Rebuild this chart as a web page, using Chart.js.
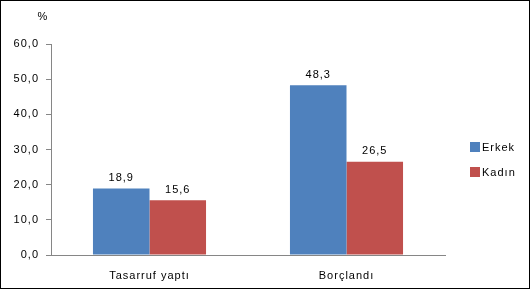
<!DOCTYPE html>
<html lang="tr">
<head>
  <meta charset="UTF-8" />
  <title>Tasarruf / Borçlanma</title>
  <script src="https://cdn.jsdelivr.net/npm/chart.js"></script>
  <style>
    * { box-sizing: border-box; }
    body { margin: 0; padding: 0; background: #fff; }
    .frame {
      width: 530px;
      height: 289px;
      border: 1px solid #000;
      background: #fff;
    }
    canvas { display: block; }
  </style>
</head>
<body>
  <div class="frame">
    <canvas id="chart" width="528" height="287"></canvas>
  </div>

  <script>
    const categories = ['Tasarruf yaptı', 'Borçlandı'];
    const erkek = [18.9, 48.3];
    const kadin = [15.6, 26.5];
    const seriesNames = ['Erkek', 'Kadın'];
    const seriesColors = ['#4F81BD', '#C0504D'];
    const yMin = 0, yMax = 60, yStep = 10;
    const unitLabel = '%';

    const fontFamily = "'Liberation Sans', Arial, sans-serif";
    const fmt = v => v.toFixed(1).replace('.', ',');

    // wide letter spacing like the original export
    const spacing = {
      id: 'spacing',
      beforeInit(chart) { chart.ctx.letterSpacing = '1px'; },
      beforeDraw(chart) { chart.ctx.letterSpacing = '1px'; }
    };

    // value labels above each bar + legend + unit label
    const extras = {
      id: 'extras',
      afterDatasetsDraw(chart) {
        const c = chart.ctx;
        c.save();
        c.letterSpacing = '1px';
        c.font = '11px ' + fontFamily;
        c.fillStyle = '#000';
        c.textAlign = 'center';
        c.textBaseline = 'bottom';
        chart.data.datasets.forEach((ds, i) => {
          chart.getDatasetMeta(i).data.forEach((bar, j) => {
            c.fillText(fmt(ds.data[j]), bar.x, bar.y - 5);
          });
        });

        // unit label above the y axis
        c.textAlign = 'center';
        c.textBaseline = 'middle';
        c.fillText(unitLabel, chart.chartArea.left - 8, 16);

        // legend
        const lx = chart.chartArea.right + 25;
        let ly = 146;
        c.textAlign = 'left';
        chart.data.datasets.forEach(ds => {
          c.fillStyle = ds.backgroundColor;
          c.fillRect(lx, ly - 5, 10, 10);
          c.fillStyle = '#000';
          c.fillText(ds.label, lx + 12, ly + 1);
          ly += 25;
        });
        c.restore();
      }
    };

    new Chart(document.getElementById('chart'), {
      type: 'bar',
      data: {
        labels: categories,
        datasets: [
          { label: seriesNames[0], data: erkek, backgroundColor: seriesColors[0] },
          { label: seriesNames[1], data: kadin, backgroundColor: seriesColors[1] }
        ]
      },
      options: {
        responsive: false,
        animation: false,
        events: [],
        layout: { padding: { top: 43, right: 84, left: 0, bottom: 0 } },
        datasets: {
          bar: { categoryPercentage: 0.574, barPercentage: 1.0 }
        },
        plugins: {
          legend: { display: false },
          tooltip: { enabled: false }
        },
        scales: {
          x: {
            grid: { display: false },
            border: { display: true, color: '#868686', width: 1 },
            ticks: { color: '#000', padding: 6, font: { family: fontFamily, size: 11 } },
            afterFit(scale) { scale.height = 33; }
          },
          y: {
            min: yMin,
            max: yMax,
            grid: { drawOnChartArea: false, drawTicks: true, tickLength: 5, color: '#868686' },
            border: { display: true, color: '#868686', width: 1 },
            ticks: {
              stepSize: yStep,
              color: '#000',
              padding: 7,
              font: { family: fontFamily, size: 11 },
              callback: v => fmt(v)
            },
            afterFit(scale) { scale.width = 50; }
          }
        }
      },
      plugins: [spacing, extras]
    });
  </script>
</body>
</html>
